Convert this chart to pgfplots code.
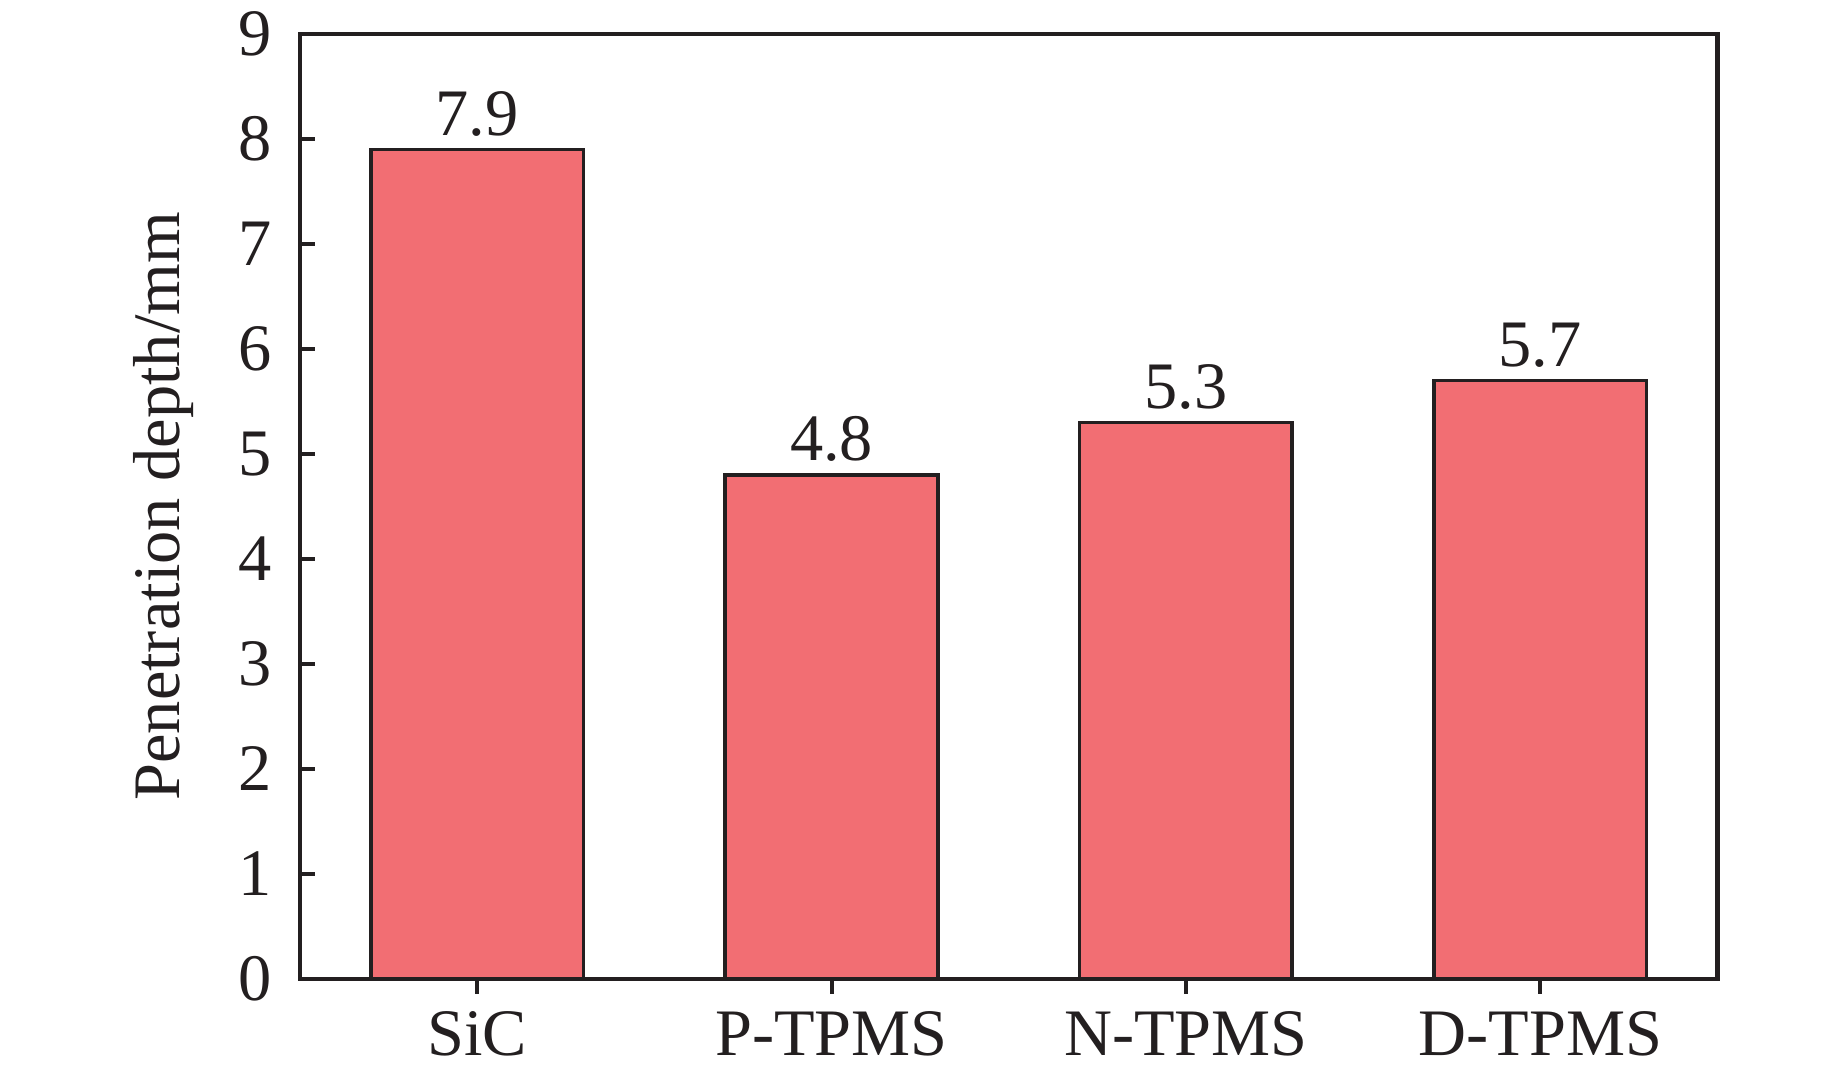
\documentclass[border=0pt]{standalone}
\usepackage{pgfplots}
\pgfplotsset{compat=1.18}
\usepackage{fontspec}
\setmainfont{Liberation Serif}
\definecolor{barred}{RGB}{242,110,115}
\definecolor{ink}{RGB}{35,31,32}
\begin{document}
\fontsize{16.6}{20}\selectfont
\begin{tikzpicture}
\begin{axis}[
  scale only axis,
  width=354.4pt, height=236.25pt,
  xmin=-0.5, xmax=3.5,
  ymin=0, ymax=9,
  ytick={0,1,...,9},
  xtick={0,1,2,3},
  xticklabels={SiC,P-TPMS,N-TPMS,D-TPMS},
  tick align=inside,
  xtick pos=bottom, ytick pos=left,
  major tick length=3.75pt,
  every tick/.style={line width=1pt, ink},
  axis line style={line width=1.1pt, ink},
  axis on top,
  font=\fontsize{16.6}{20}\selectfont,
  /pgf/number format/assume math mode=true,
  yticklabel style={inner sep=0pt, anchor=east, xshift=-6.75pt, text=ink},
  xticklabel style={inner sep=0pt, anchor=base, yshift=-15.5pt, text=ink},
  ylabel={Penetration depth/mm},
  ylabel style={at={(rel axis cs:-0.0847,0.5)}, anchor=base, rotate=0, text=ink, inner sep=0pt},
  ybar, bar width=0.6,
  nodes near coords,
  nodes near coords style={anchor=base, inner sep=0pt, yshift=3.5pt, text=ink,
    /pgf/number format/fixed, /pgf/number format/precision=1, /pgf/number format/fixed zerofill},
]
\addplot[fill=barred, draw=ink, line width=0.95pt] coordinates {(0,7.9) (1,4.8) (2,5.3) (3,5.7)};
\coordinate (sw) at (rel axis cs:0,0);
\coordinate (ne) at (rel axis cs:1,1);
\end{axis}
\pgfresetboundingbox
\path ([xshift=-75pt,yshift=-24.25pt]sw) rectangle ([xshift=31.4pt,yshift=8.5pt]ne);
\end{tikzpicture}
\end{document}
